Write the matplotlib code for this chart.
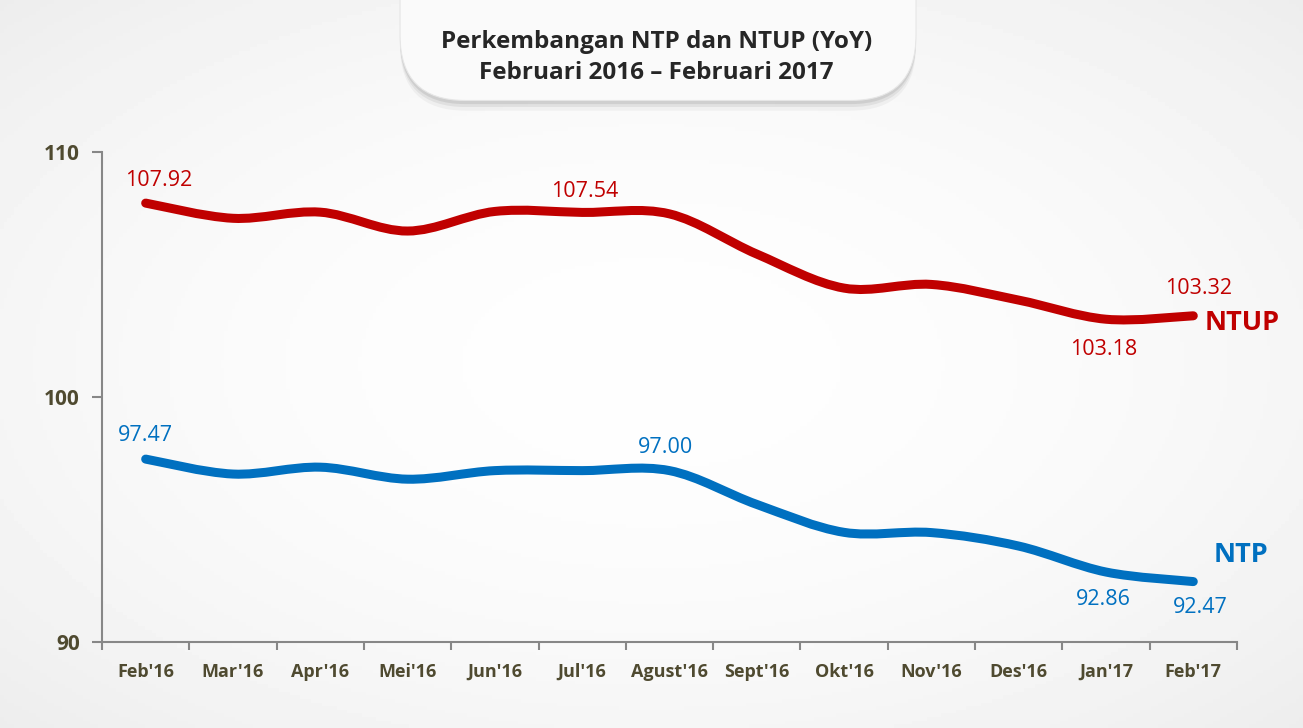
import numpy as np
import matplotlib.pyplot as plt
from matplotlib.path import Path
from matplotlib.patches import PathPatch, FancyBboxPatch

plt.rcParams['font.family'] = ['Open Sans', 'DejaVu Sans']

# Data
bulan = ["Feb'16", "Mar'16", "Apr'16", "Mei'16", "Jun'16", "Jul'16", "Agust'16",
         "Sept'16", "Okt'16", "Nov'16", "Des'16", "Jan'17", "Feb'17"]
ntup = [107.92, 107.30, 107.55, 106.78, 107.58, 107.54, 107.48,
        105.84, 104.45, 104.60, 103.96, 103.18, 103.32]
ntp = [97.47, 96.86, 97.14, 96.65, 97.00, 97.00, 97.00,
       95.62, 94.48, 94.47, 93.92, 92.86, 92.47]

merah = '#C00000'
biru = '#0070C0'
teks_sumbu = '#4F4A30'

fig = plt.figure(figsize=(13.03, 7.28), dpi=100)

# background gradient
bg = fig.add_axes([0, 0, 1, 1], zorder=-10)
yy, xx = np.mgrid[0:1:200j, 0:1:360j]
r2 = ((xx - 0.5) / 0.75) ** 2 + ((yy - 0.5) / 0.75) ** 2
bg.imshow(np.clip(0.995 - 0.075 * r2, 0.9, 1), cmap='gray', vmin=0, vmax=1,
          extent=[0, 1, 0, 1], aspect='auto')
bg.axis('off')

# title box
asp = 13.03 / 7.28
for off, a in [(0.014, 0.04), (0.009, 0.06), (0.005, 0.08)]:
    fig.patches.append(FancyBboxPatch((0.307, 0.862 - off), 0.396, 0.25,
                       boxstyle='round,pad=0,rounding_size=0.05',
                       transform=fig.transFigure, fc='#000000', ec='none',
                       alpha=a, mutation_aspect=asp))
fig.patches.append(FancyBboxPatch((0.307, 0.862), 0.396, 0.25,
                   boxstyle='round,pad=0,rounding_size=0.05',
                   transform=fig.transFigure, fc='#FAFAFA', ec='#E6E6E6', lw=0.8,
                   mutation_aspect=asp))
fig.text(0.504, 0.921, 'Perkembangan NTP dan NTUP (YoY)\nFebruari 2016 \u2013 Februari 2017',
         ha='center', va='center', fontsize=17.5, fontweight='bold', color='#262626',
         linespacing=1.35)

ax = fig.add_axes([0.0783, 0.118, 0.871, 0.673])
ax.patch.set_alpha(0)


def kurva(y):
    x = np.arange(len(y), dtype=float)
    y = np.asarray(y, dtype=float)
    verts = [(x[0], y[0])]
    codes = [Path.MOVETO]
    n = len(y)
    for i in range(n - 1):
        i0 = max(i - 1, 0)
        i3 = min(i + 2, n - 1)
        c1 = (x[i] + (x[i + 1] - x[i0]) / 6, y[i] + (y[i + 1] - y[i0]) / 6)
        c2 = (x[i + 1] - (x[i3] - x[i]) / 6, y[i + 1] - (y[i3] - y[i]) / 6)
        verts += [c1, c2, (x[i + 1], y[i + 1])]
        codes += [Path.CURVE4] * 3
    return Path(verts, codes)


for seri, warna in [(ntup, merah), (ntp, biru)]:
    ax.add_patch(PathPatch(kurva(seri), fc='none', ec=warna, lw=6.5,
                           capstyle='round', joinstyle='round'))

ax.set_xlim(-0.5, 12.5)
ax.set_ylim(90, 110)
ax.set_yticks([90, 100, 110])
ax.set_xticks(np.arange(13))
ax.set_xticklabels(bulan)
ax.set_xticks(np.arange(-0.5, 13, 1), minor=True)
ax.tick_params(axis='x', which='major', length=0, pad=15)
ax.tick_params(axis='x', which='minor', length=6, color='#878787', width=1.5)
ax.tick_params(axis='y', length=7, color='#878787', width=1.5, pad=9)
for lbl in ax.get_xticklabels() + ax.get_yticklabels():
    lbl.set_fontweight('bold')
    lbl.set_color(teks_sumbu)
for lbl in ax.get_xticklabels():
    lbl.set_fontsize(13)
for lbl in ax.get_yticklabels():
    lbl.set_fontsize(15)
for s in ['top', 'right']:
    ax.spines[s].set_visible(False)
for s in ['left', 'bottom']:
    ax.spines[s].set_color('#878787')
    ax.spines[s].set_linewidth(1.5)

# data labels: (seri, index, dx, dy) in points
lab = [(ntup, 0, 9, 16), (ntup, 5, 2, 15), (ntup, 12, 4, 20), (ntup, 11, -2, -22),
       (ntp, 0, 0, 17), (ntp, 6, -3, 17), (ntp, 11, -2, -20), (ntp, 12, 5, -19)]
for seri, i, dx, dy in lab:
    warna = merah if seri is ntup else biru
    ax.annotate(f'{seri[i]:.2f}', (i, seri[i]), xytext=(dx, dy),
                textcoords='offset points', ha='center', va='center',
                fontsize=15.5, color=warna)

ax.annotate('NTUP', (12, ntup[-1]), xytext=(8, -5), textcoords='offset points',
            ha='left', va='center', fontsize=19.5, fontweight='bold', color=merah,
            annotation_clip=False)
ax.annotate('NTP', (12, ntp[-1]), xytext=(15, 19), textcoords='offset points',
            ha='left', va='center', fontsize=19.5, fontweight='bold', color=biru,
            annotation_clip=False)

fig.savefig('out.png', dpi=100)
